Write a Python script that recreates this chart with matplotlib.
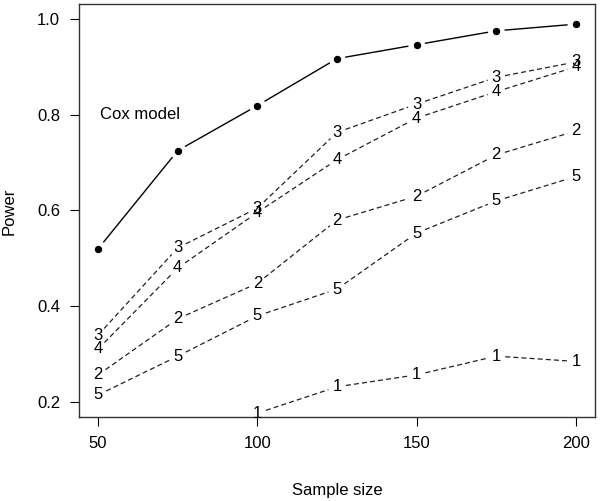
import numpy as np
import matplotlib.pyplot as plt

plt.rcParams['font.family'] = ['Liberation Sans', 'DejaVu Sans']

sizes = [50, 75, 100, 125, 150, 175, 200]
cox = [0.520, 0.725, 0.819, 0.917, 0.946, 0.975, 0.989]
power_1 = [0.177, 0.232, 0.257, 0.296, 0.285]   # only visible from n=100
power_2 = [0.257, 0.374, 0.448, 0.580, 0.630, 0.716, 0.766]
power_3 = [0.340, 0.522, 0.605, 0.763, 0.822, 0.878, 0.910]
power_4 = [0.311, 0.480, 0.596, 0.706, 0.793, 0.848, 0.900]
power_5 = [0.215, 0.296, 0.380, 0.436, 0.553, 0.620, 0.671]

series = [('1', sizes[2:], power_1), ('2', sizes, power_2), ('3', sizes, power_3),
          ('4', sizes, power_4), ('5', sizes, power_5)]


def gapped_line(ax, x, y, gap, **kw):
    # like R type="b": leave a gap round every point
    pts = ax.transData.transform(np.column_stack([x, y]))
    inv = ax.transData.inverted()
    for p0, p1 in zip(pts[:-1], pts[1:]):
        d = p1 - p0
        L = np.hypot(*d)
        if L <= 2 * gap:
            continue
        u = d / L
        a = inv.transform(p0 + u * gap)
        b = inv.transform(p1 - u * gap)
        ax.plot([a[0], b[0]], [a[1], b[1]], **kw)


fig = plt.figure(figsize=(6.0, 5.01), dpi=100)
ax = fig.add_axes([79 / 600, 1 - 417 / 501, 516 / 600, 413 / 501])
ax.set_xlim(44.0, 206.0)
ax.set_ylim(0.169, 1.031)

gapped_line(ax, sizes, cox, 9, color='black', lw=1.0)
ax.plot(sizes, cox, 'o', color='black', ms=4.3)

for lab, xs, ys in series:
    gapped_line(ax, xs, ys, 9, color='#222222', lw=0.9, linestyle=(0, (4, 2.5)))
    for xv, yv in zip(xs, ys):
        ax.text(xv, yv, lab, ha='center', va='center', fontsize=12, clip_on=False)

ax.text(50.6, 0.8, 'Cox model', ha='left', va='center', fontsize=12)

ax.set_xticks([50, 100, 150, 200])
ax.set_yticks([0.2, 0.4, 0.6, 0.8, 1.0])
ax.set_yticklabels(['0.2', '0.4', '0.6', '0.8', '1.0'])
ax.tick_params(direction='out', length=6.5, width=0.8, labelsize=12, pad=7)
for s in ax.spines.values():
    s.set_linewidth(1.0)
    s.set_color('#333333')

fig.text(337 / 600, 1 - 490 / 501, 'Sample size', ha='center', va='center', fontsize=12)
fig.text(9 / 600, 1 - 211 / 501, 'Power', ha='center', va='center', rotation=90, fontsize=12)

fig.savefig('out.png', dpi=100)
